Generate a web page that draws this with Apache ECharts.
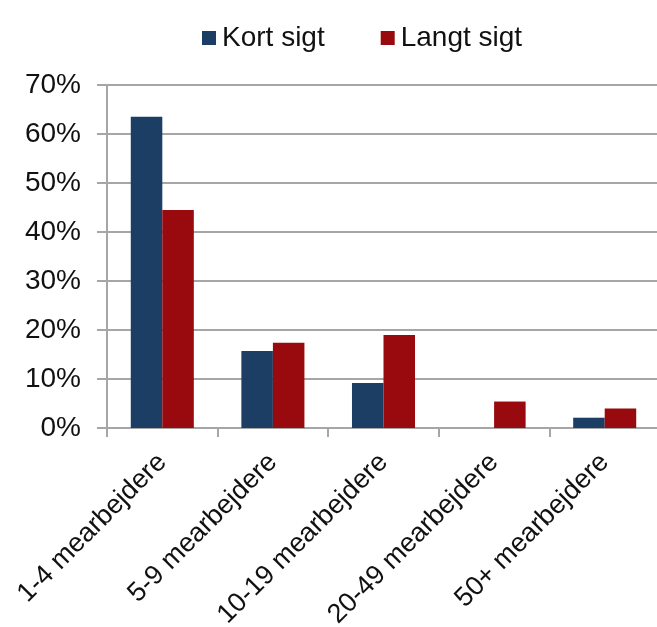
<!DOCTYPE html>
<html><head><meta charset="utf-8">
<script src="https://cdn.jsdelivr.net/npm/echarts@6/dist/echarts.min.js"></script>
<style>html,body{margin:0;padding:0;background:#fff}#c{width:657px;height:627px}</style>
</head><body><div id="c"></div>
<script>
const categories = ['1-4 mearbejdere','5-9 mearbejdere','10-19 mearbejdere','20-49 mearbejdere','50+ mearbejdere'];
const kortSigt = [63.5, 15.7, 9.2, 0, 2.1];
const langtSigt = [44.5, 17.4, 19.0, 5.4, 4.0];
const yTicks = [0,10,20,30,40,50,60,70];

const chart = echarts.init(document.getElementById('c'));
const font = 'Liberation Sans, Arial, sans-serif';
chart.setOption({
  animation:false,
  legend:{top:19,left:197,itemWidth:14,itemHeight:14,itemGap:56,icon:'rect',
    textStyle:{fontFamily:font,fontSize:28,color:'#111',padding:[0,0,0,1]},
    data:['Kort sigt','Langt sigt']},
  grid:{left:107,right:-3,top:85,bottom:199,containLabel:false,outerBoundsMode:'none'},
  xAxis:{type:'category',data:categories,
    axisLine:{lineStyle:{color:'#A6A6A6',width:2}},
    axisTick:{show:true,length:9,lineStyle:{color:'#A6A6A6',width:2}},
    axisLabel:{rotate:45,margin:30,fontFamily:font,fontSize:27,color:'#111'}},
  yAxis:{type:'value',min:0,max:70,interval:10,
    axisLine:{show:true,lineStyle:{color:'#A6A6A6',width:2}},
    axisTick:{show:true,length:10,lineStyle:{color:'#A6A6A6',width:2}},
    splitLine:{lineStyle:{color:'#A6A6A6',width:2}},
    axisLabel:{margin:26,fontFamily:font,fontSize:28,color:'#111',
      formatter:v=> yTicks.includes(v) ? v+'%' : ''}},
  series:[
    {name:'Kort sigt',type:'bar',data:kortSigt,barGap:0,barCategoryGap:'43%',itemStyle:{color:'#1C3D64'}},
    {name:'Langt sigt',type:'bar',data:langtSigt,barGap:0,barCategoryGap:'43%',itemStyle:{color:'#980A0D'}}
  ]
});
</script></body></html>
